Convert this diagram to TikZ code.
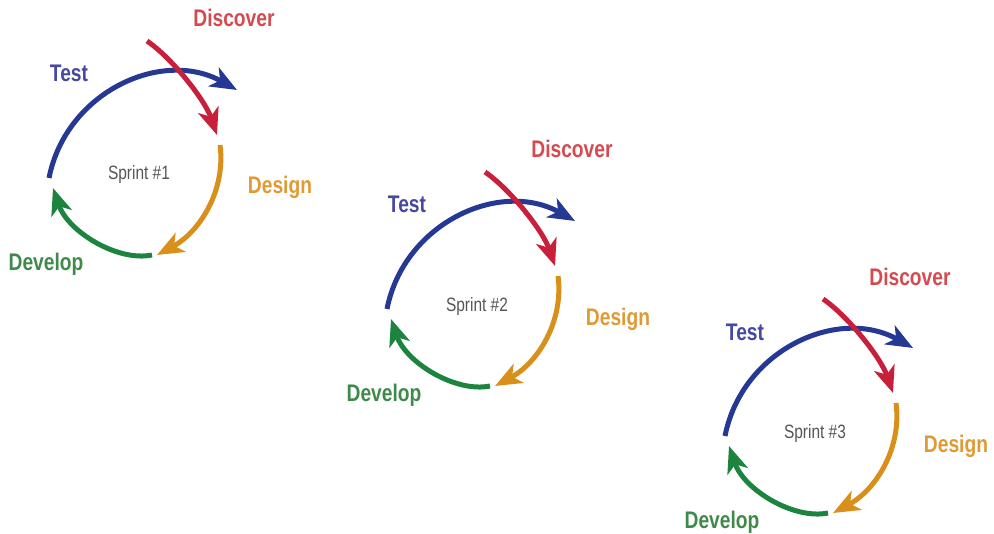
\documentclass[tikz,border=0pt]{standalone}
\usepackage{fontspec}
\setmainfont{Liberation Sans}
\newfontfamily\lblfont[FakeStretch=0.8]{Liberation Sans}
\usepackage{tikz}
\usetikzlibrary{arrows.meta}

\definecolor{testblue}{HTML}{253894}
\definecolor{discred}{HTML}{C8203A}
\definecolor{designorange}{HTML}{D9901A}
\definecolor{devgreen}{HTML}{1D8440}
\definecolor{testtext}{HTML}{4549A0}
\definecolor{disctext}{HTML}{D44A4F}
\definecolor{designtext}{HTML}{E09A33}
\definecolor{devtext}{HTML}{3F8A4A}
\definecolor{sprintgray}{HTML}{555555}

\tikzset{
  looparc/.style={line width=0.15cm, -{Stealth[length=0.8cm,width=0.64cm,inset=0.22cm]}},
  phase/.style={font=\lblfont\bfseries\fontsize{20.5}{24}\selectfont, anchor=base},
  sprint/.style={font=\lblfont\fontsize{16.5}{20}\selectfont, text=sprintgray, anchor=base},
}

\begin{document}
\begin{tikzpicture}[x=0.03cm, y=-0.03cm]
  \useasboundingbox (0,0) rectangle (994,534);
  \foreach \n/\dx/\dy in {1/0/0, 2/338/131, 3/676/258} {
    \begin{scope}[shift={(\dx,\dy)}]
      % Test
      \draw[looparc, testblue] (49,178) .. controls (66,92) and (162,48) .. (237,90);
      % Discover
      \draw[looparc, discred] (147,41) .. controls (172,58) and (205,100) .. (217,135);
      % Design
      \draw[looparc, designorange] (220,145) .. controls (226,190) and (200,232) .. (157,255);
      % Develop
      \draw[looparc, devgreen] (152,255) .. controls (118,262) and (68,232) .. (53,188);
      % Labels
      \node[phase, text=disctext] (disc\n) at (234,27) {Discover};
      \node[phase, text=testtext] (test\n) at (69,82) {Test};
      \node[phase, text=designtext] (design\n) at (280,194) {Design};
      \node[phase, text=devtext] (dev\n) at (46,270) {Develop};
      \node[sprint] (sprint\n) at (139,180) {Sprint \#\n};
    \end{scope}
  }
\end{tikzpicture}
\end{document}
